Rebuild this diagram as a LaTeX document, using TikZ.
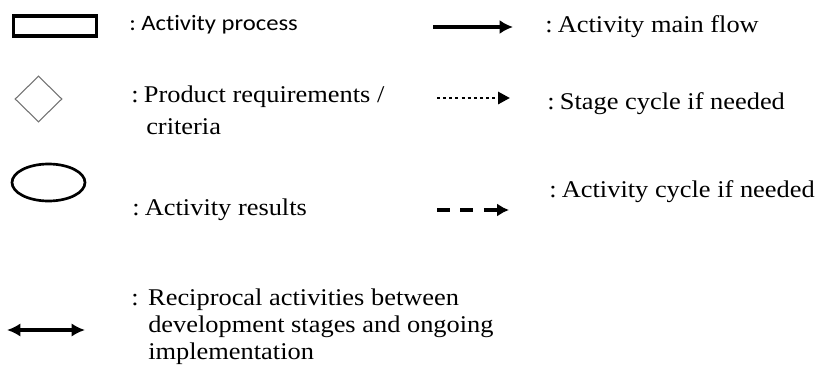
\documentclass[tikz,border=0pt]{standalone}
\usepackage{fontspec}
\setmainfont{Liberation Serif}[FakeStretch=1.1]
\newfontfamily\calfont{Carlito}[FakeStretch=1.12, Ligatures=NoCommon]
\usetikzlibrary{shapes.geometric,arrows.meta}

\tikzset{
  lbl/.style={anchor=base west, inner sep=0pt, font=\fontsize{18}{21}\selectfont},
  sanslbl/.style={anchor=base west, inner sep=0pt, font=\calfont\fontsize{16.5}{20}\selectfont},
  procbox/.style={draw, line width=2.3pt, minimum width=82.5pt*0.75, minimum height=20pt*0.75, inner sep=0pt},
  critbox/.style={diamond, draw=black!55, line width=0.8pt, minimum width=47*0.75pt, minimum height=46*0.75pt, inner sep=0pt},
  resbox/.style={ellipse, draw, line width=2pt, minimum width=73*0.75pt, minimum height=37*0.75pt, inner sep=0pt},
  mainflow/.style={line width=2.4pt, -{Latex[length=10pt,width=10.5pt]}},
  stageflow/.style={line width=2.2pt, dash pattern=on 2.3pt off 2.3pt, -{Triangle[length=9pt,width=9pt]}},
  cycleflow/.style={line width=2.5pt, dash pattern=on 9.75pt off 7.8pt, -{Latex[length=9pt,width=10pt]}},
  recipflow/.style={line width=2.4pt, {Latex[length=10pt,width=10pt]}-{Latex[length=10pt,width=10pt]}}
}

\begin{document}
\begin{tikzpicture}[x=0.75pt, y=-0.75pt]
\useasboundingbox (0,0) rectangle (819,371);

% left column: shapes
\node[procbox] (proc) at (55,26) {};
\node[critbox] (crit) at (38.5,99) {};
\node[resbox] (res) at (48.5,182.5) {};
\coordinate (recip-a) at (7,330);
\coordinate (recip-b) at (85,330);
\draw[recipflow] (recip-a) -- (recip-b);

\node[sanslbl] (proc-txt) at (129,31) {:\hspace{0.25em}Activity process};
\node[lbl] (crit-txt) at (131,102) {:\hspace{0.22em}Product requirements /};
\node[lbl] (crit-txt2) at (146,134) {criteria};
\node[lbl] (res-txt) at (132,215) {:\hspace{0.22em}Activity results};
\node[lbl] (recip-txt) at (131,305) {:\hspace{0.4em}Reciprocal activities between};
\node[lbl] (recip-txt2) at (148,332) {development stages and ongoing};
\node[lbl] (recip-txt3) at (148,359) {implementation};

% right column: arrows
\coordinate (main-a) at (433,27);
\coordinate (main-b) at (513,27);
\draw[mainflow] (main-a) -- (main-b);
\coordinate (stage-a) at (437,98);
\coordinate (stage-b) at (510,98);
\draw[stageflow] (stage-a) -- (stage-b);
\coordinate (cyc-a) at (437,210);
\coordinate (cyc-b) at (509,210);
\draw[cycleflow] (cyc-a) -- (cyc-b);

\node[lbl] (main-txt) at (545,32) {:\hspace{0.22em}Activity main flow};
\node[lbl] (stage-txt) at (547,109) {:\hspace{0.22em}Stage cycle if needed};
\node[lbl] (cyc-txt) at (549,197) {:\hspace{0.22em}Activity cycle if needed};
\end{tikzpicture}
\end{document}
